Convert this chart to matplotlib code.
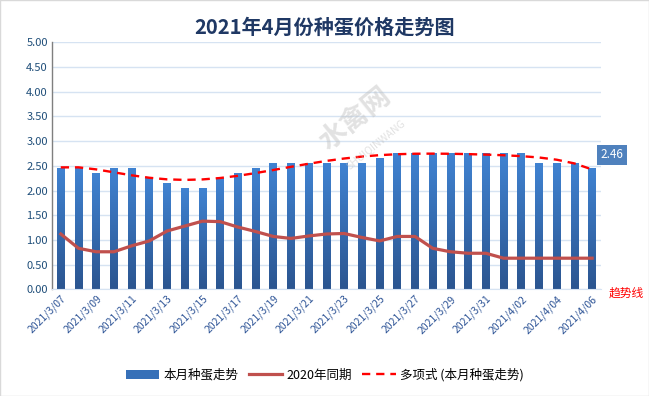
import numpy as np
import matplotlib
matplotlib.use("Agg")
import matplotlib.pyplot as plt
from matplotlib.patches import Rectangle
from matplotlib.colors import LinearSegmentedColormap

plt.rcParams["font.family"] = ["Noto Sans CJK SC", "DejaVu Sans"]

# =========================
# DATA
# =========================
DATES = [f"2021/3/{d:02d}" for d in range(7, 32)] + [f"2021/4/{d:02d}" for d in range(1, 7)]

PRICE_2021 = [
    2.46, 2.46, 2.36, 2.46, 2.46, 2.26, 2.16, 2.06, 2.06, 2.26,
    2.36, 2.46, 2.56, 2.56, 2.56, 2.56, 2.56, 2.56, 2.66, 2.76,
    2.76, 2.76, 2.76, 2.76, 2.76, 2.76, 2.76, 2.56, 2.56, 2.56,
    2.46,
]

PRICE_2020 = [
    1.12, 0.83, 0.76, 0.76, 0.88, 0.98, 1.18, 1.28, 1.38, 1.37,
    1.26, 1.17, 1.07, 1.03, 1.08, 1.12, 1.13, 1.05, 0.98, 1.07,
    1.07, 0.83, 0.76, 0.73, 0.73, 0.63, 0.63, 0.63, 0.63, 0.63,
    0.63,
]

YTICKS = [0, 0.5, 1.0, 1.5, 2.0, 2.5, 3.0, 3.5, 4.0, 4.5, 5.0]
TREND_ORDER = 6

TITLE = "2021年4月份种蛋价格走势图"
LABELS = ["本月种蛋走势", "2020年同期", "多项式 (本月种蛋走势)"]

# =========================
# PLOT
# =========================
fig = plt.figure(figsize=(6.49, 3.96), dpi=100)
ax = fig.add_axes([0.080, 0.2694, 0.846, 0.6238])

x = np.arange(len(DATES))
y = np.array(PRICE_2021)

bars = ax.bar(x, y, width=0.44, color="#3670b8", zorder=2, label=LABELS[0])

# vertical gradient inside each bar
cmap = LinearSegmentedColormap.from_list("bar_grad", ["#2b5590", "#4083d2"])
grad = np.linspace(0, 1, 256).reshape(-1, 1)
for b in bars:
    bx, bw = b.get_x(), b.get_width()
    im = ax.imshow(grad, cmap=cmap, origin="lower", aspect="auto",
                   extent=(bx, bx + bw, 0, b.get_height()), zorder=2.1)
    im.set_clip_path(b)

ax.plot(x, PRICE_2020, color="#c0504d", linewidth=2.3, zorder=3, label=LABELS[1])

coef = np.polyfit(x + 1, y, TREND_ORDER)
trend = np.polyval(coef, x + 1)
ax.plot(x, trend, color="#ff0000", linewidth=1.7, linestyle=(0, (3.5, 2.5)),
        zorder=4, label=LABELS[2])

ax.set_xlim(-0.5, len(DATES) - 0.5)
ax.set_ylim(0, 5)
ax.set_yticks(YTICKS)
ax.set_yticklabels([f"{v:.2f}" for v in YTICKS], fontsize=8, color="#1f4e79")
ax.set_xticks(x[::2])
ax.set_xticklabels(DATES[::2], rotation=45, ha="right", rotation_mode="anchor",
                   fontsize=7.5, color="#2f5597")
ax.tick_params(axis="both", length=0, pad=3)
ax.grid(axis="y", color="#d6e3f2", linewidth=1.0, zorder=0)

for side in ["top", "right"]:
    ax.spines[side].set_visible(False)
ax.spines["left"].set_color("#7f7f7f")
ax.spines["left"].set_linewidth(1.0)
ax.spines["bottom"].set_color("#d6e3f2")

# last value label
ax.annotate(f"{PRICE_2021[-1]:.2f}", xy=(x[-1], 2.72), xytext=(14.5, 0),
            textcoords="offset points", ha="center", va="center",
            fontsize=8.5, color="white", annotation_clip=False,
            bbox=dict(boxstyle="square,pad=0.3", fc="#4f81bd", ec="none"))

# trend line note
fig.text(0.992, 0.275, "趋势线", color="#ff0000", fontsize=8.5, ha="right", va="top")

# watermark
fig.text(0.548, 0.70, "水禽网", fontsize=20, color="#bfbfbf", alpha=0.45,
         rotation=39, ha="center", va="center", fontweight="bold", zorder=5)
fig.text(0.578, 0.635, "SHUIQINWANG", fontsize=7.5, color="#bfbfbf", alpha=0.45,
         rotation=39, ha="center", va="center", zorder=5)

fig.suptitle(TITLE, x=0.5, y=0.957, fontsize=14.5, fontweight="bold", color="#1f3864")

handles, labels = ax.get_legend_handles_labels()
order = [labels.index(l) for l in LABELS]
fig.legend([handles[i] for i in order], [labels[i] for i in order],
           loc="center", bbox_to_anchor=(0.5, 0.053), ncol=3,
           frameon=False, fontsize=9, handlelength=2.7, columnspacing=0.85,
           handletextpad=0.3)

fig.patches.append(Rectangle((0, 0), 1, 1, transform=fig.transFigure, fill=False,
                             edgecolor="#d9d9d9", linewidth=1.0))

fig.savefig("out.png", dpi=100)
